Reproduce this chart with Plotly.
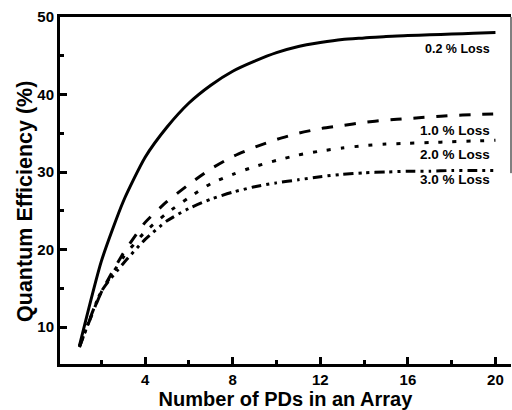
import plotly.graph_objects as go

n_pds = [1, 2, 3, 4, 5, 6, 7, 8, 9, 10, 11, 12, 13, 14, 15, 16, 17, 18, 19, 20]
qe_loss_02 = [7.6, 18.5, 26.2, 31.9, 35.8, 38.9, 41.2, 43.0, 44.3, 45.4, 46.2, 46.7, 47.1, 47.3, 47.5, 47.6, 47.7, 47.8, 47.9, 48.0]
qe_loss_10 = [7.5, 14.5, 19.5, 23.5, 26.2, 28.4, 30.4, 32.0, 33.2, 34.2, 35.0, 35.6, 36.0, 36.4, 36.7, 36.9, 37.1, 37.3, 37.4, 37.5]
qe_loss_20 = [7.5, 14.5, 19.0, 22.3, 24.7, 26.7, 28.5, 29.7, 30.7, 31.5, 32.2, 32.7, 33.1, 33.4, 33.6, 33.7, 33.8, 33.9, 34.0, 34.1]
qe_loss_30 = [7.4, 14.6, 18.2, 21.3, 23.7, 25.3, 26.5, 27.4, 28.1, 28.6, 29.0, 29.4, 29.7, 29.9, 30.0, 30.1, 30.1, 30.2, 30.2, 30.2]

series_names = ["0.2 % Loss", "1.0 % Loss", "2.0 % Loss", "3.0 % Loss"]
label_y = [45.9, 35.4, 32.2, 29.0]

x_ticks = [4, 8, 12, 16, 20]
y_ticks = [10, 20, 30, 40, 50]

FONT = "Liberation Sans, Arial, Helvetica, sans-serif"

fig = go.Figure()
dashes = ["solid", "11px,12px", "4px,10px", "10px,5px,3px,5px,3px,5px"]
for name, ys, d in zip(series_names, [qe_loss_02, qe_loss_10, qe_loss_20, qe_loss_30], dashes):
    fig.add_trace(go.Scatter(x=n_pds, y=ys, mode="lines", name=name,
                             line=dict(color="black", width=3, dash=d, shape="spline", smoothing=0.6),
                             showlegend=False))

for name, ly in zip(series_names, label_y):
    fig.add_annotation(x=19.85, y=ly, xref="x", yref="y", text=name, showarrow=False,
                       xanchor="right", yanchor="middle",
                       font=dict(family=FONT, size=13.5 if name != "0.2 % Loss" else 12.5,
                                 color="black", weight="bold"))

# y-axis title as annotation (slightly below plot centre, as in the reference)
fig.add_annotation(x=-0.0776, y=0.467, xref="paper", yref="paper", text="Quantum Efficiency (%)",
                   textangle=-90, showarrow=False, xanchor="center", yanchor="middle",
                   font=dict(family=FONT, size=21.5, color="black", weight="bold"))

fig.add_shape(type="line", xref="paper", yref="paper", x0=1, x1=1, y0=0.55, y1=1,
              line=dict(color="black", width=1))

fig.update_layout(
    width=512, height=410,
    margin=dict(l=60, r=1, t=17, b=46),
    paper_bgcolor="white", plot_bgcolor="white",
    font=dict(family=FONT, color="black"),
    xaxis=dict(range=[0.11, 20.71], tickvals=x_ticks, ticks="inside", ticklen=7, tickwidth=2.5,
               tickcolor="black", showline=True, linewidth=3, linecolor="black", mirror=True,
               showgrid=False, zeroline=False,
               tickfont=dict(family=FONT, size=15, color="black", weight="bold"),
               minor=dict(tickvals=[2, 6, 10, 14, 18], ticks="inside", ticklen=4, tickwidth=2.5,
                          tickcolor="black", showgrid=False),
               title=dict(text="Number of PDs in an Array", standoff=4,
                          font=dict(family=FONT, size=20, color="black", weight="bold"))),
    yaxis=dict(range=[5.23, 50], tickvals=y_ticks, ticks="inside", ticklen=7, tickwidth=2.5,
               tickcolor="black", showline=True, linewidth=3, linecolor="black",
               showgrid=False, zeroline=False,
               tickfont=dict(family=FONT, size=15, color="black", weight="bold"),
               minor=dict(tickvals=[15, 25, 35, 45], ticks="inside", ticklen=4, tickwidth=2.5,
                          tickcolor="black", showgrid=False)),
)

fig.write_html("out.html")
